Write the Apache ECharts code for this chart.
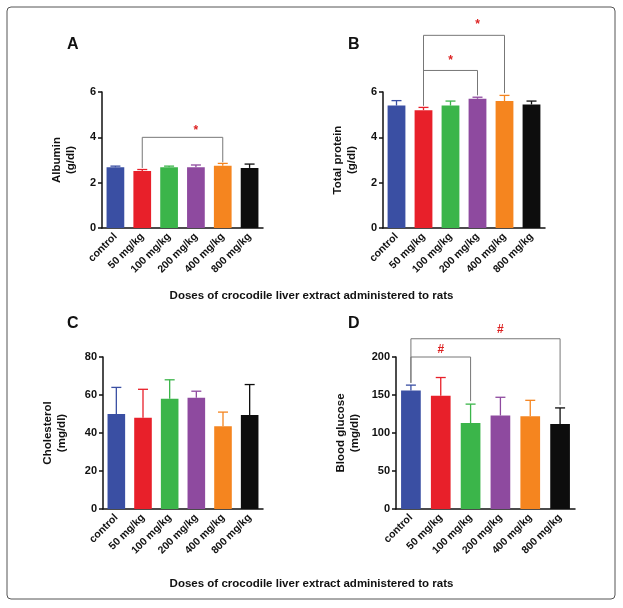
<!DOCTYPE html>
<html><head><meta charset="utf-8">
<script src="https://cdn.jsdelivr.net/npm/echarts@6/dist/echarts.min.js"></script>
<style>html,body{margin:0;padding:0;background:#fff}#c{width:623px;height:608px}</style>
</head><body><div id="c"></div>
<script>
const categories = ['control','50 mg/kg','100 mg/kg','200 mg/kg','400 mg/kg','800 mg/kg'];
const colors = ['#3a4fa3','#e8202a','#3bb54a','#8e4a9f','#f5851f','#0d0d0d'];
const albumin = [2.68,2.52,2.68,2.68,2.75,2.65];
const albuminErr = [0.05,0.06,0.05,0.1,0.1,0.17];
const protein = [5.4,5.2,5.4,5.7,5.6,5.45];
const proteinErr = [0.22,0.12,0.2,0.07,0.25,0.15];
const cholesterol = [50,48,58,58.5,43.5,49.5];
const cholesterolErr = [14,15,10,3.5,7.5,16];
const glucose = [156,149,113,123,122,112];
const glucoseErr = [7,24,25,24,21,21];
// brackets: [fromIdx, toIdx, level, leftLegEnd, rightLegEnd, mark, markLevel]
const bracketsA = [[1,4,4.0,2.65,2.9,'*',4.3]];
const bracketsB = [[1,3,6.95,5.4,5.85,'*',7.4],[1,4,8.5,5.4,5.95,'*',8.95]];
const bracketsD = [[0,2,200,166,142,'#',210],[0,5,224,166,137,'#',236]];

const panels = [
 {letter:'A',name:'Albumin\n(g/dl)',vals:albumin,err:albuminErr,br:bracketsA,max:6,int:2,grid:{left:102,top:92,width:161,height:136}},
 {letter:'B',name:'Total protein\n(g/dl)',vals:protein,err:proteinErr,br:bracketsB,max:6,int:2,grid:{left:383,top:92,width:162,height:136}},
 {letter:'C',name:'Cholesterol\n(mg/dl)',vals:cholesterol,err:cholesterolErr,br:[],max:80,int:20,grid:{left:103,top:357,width:160,height:152}},
 {letter:'D',name:'Blood glucose\n(mg/dl)',vals:glucose,err:glucoseErr,br:bracketsD,max:200,int:50,grid:{left:396,top:357,width:179,height:152}}
];
const bold = {fontFamily:'Liberation Sans, Arial',fontWeight:'bold',color:'#111'};
const grid=[],xAxis=[],yAxis=[],series=[];
const graphic=[{type:'rect',shape:{x:7,y:7,width:608,height:592,r:4},style:{fill:'none',stroke:'#555',lineWidth:1}}];
const letterPos=[[67,37],[348,37],[67,316],[348,316]];
panels.forEach((p,i)=>{
  grid.push(p.grid);
  xAxis.push({type:'category',gridIndex:i,data:categories,
    axisLine:{lineStyle:{color:'#111',width:1.5}},
    axisTick:{alignWithLabel:true,lineStyle:{color:'#111',width:1.5},length:5},
    axisLabel:Object.assign({rotate:45,fontSize:10.5,margin:7,interval:0},bold)});
  yAxis.push({type:'value',gridIndex:i,min:0,max:p.max,interval:p.int,
    name:p.name,nameLocation:'middle',nameGap:p.max>=80?34:24,nameRotate:90,
    nameTextStyle:Object.assign({fontSize:11.5,lineHeight:14},bold),
    axisLine:{show:true,lineStyle:{color:'#111',width:1.5}},
    axisTick:{show:true,length:4,lineStyle:{color:'#111',width:1.5}},
    axisLabel:Object.assign({fontSize:11,margin:6},bold),splitLine:{show:false}});
  series.push({type:'bar',xAxisIndex:i,yAxisIndex:i,barWidth:'66%',
    data:p.vals.map((v,k)=>({value:v,itemStyle:{color:colors[k]}}))});
  series.push({type:'custom',xAxisIndex:i,yAxisIndex:i,z:1,
    data:p.vals.map((v,k)=>[k,v,v+p.err[k]]),
    renderItem:(params,api)=>{
      const k=api.value(0),a=api.coord([k,api.value(1)]),b=api.coord([k,api.value(2)]);
      const c=colors[k];
      return {type:'group',children:[
        {type:'line',shape:{x1:a[0],y1:a[1],x2:b[0],y2:b[1]},style:{stroke:c,lineWidth:1.3}},
        {type:'line',shape:{x1:b[0]-5,y1:b[1],x2:b[0]+5,y2:b[1]},style:{stroke:c,lineWidth:1.3}}]};
    }});
  if(p.br.length) series.push({type:'custom',xAxisIndex:i,yAxisIndex:i,clip:false,
    data:p.br,
    renderItem:(params,api)=>{
      const f=api.value(0),t=api.value(1),lv=api.value(2);
      const l1=api.coord([f,lv]),l0=api.coord([f,api.value(3)]),r1=api.coord([t,lv]),r0=api.coord([t,api.value(4)]);
      const m=api.coord([(f+t)/2,api.value(6)]);
      const mark=p.br[params.dataIndex][5];
      return {type:'group',children:[
        {type:'polyline',shape:{points:[l0,l1,r1,r0]},style:{stroke:'#777',fill:'none',lineWidth:1}},
        {type:'text',x:m[0],y:m[1],style:{text:mark,fill:'#d22',font:'bold 12px Liberation Sans',align:'center',verticalAlign:'middle'}}]};
    }});
  graphic.push({type:'text',left:letterPos[i][0],top:letterPos[i][1],style:{text:p.letter,font:'bold 16px Liberation Sans',fill:'#111'}});
});
const title='Doses of crocodile liver extract administered to rats';
graphic.push({type:'text',left:'center',top:290,style:{text:title,font:'bold 11.5px Liberation Sans',fill:'#111'}});
graphic.push({type:'text',left:'center',top:578,style:{text:title,font:'bold 11.5px Liberation Sans',fill:'#111'}});
const chart=echarts.init(document.getElementById('c'));
chart.setOption({animation:false,backgroundColor:'#fff',grid,xAxis,yAxis,series,graphic});
</script></body></html>
